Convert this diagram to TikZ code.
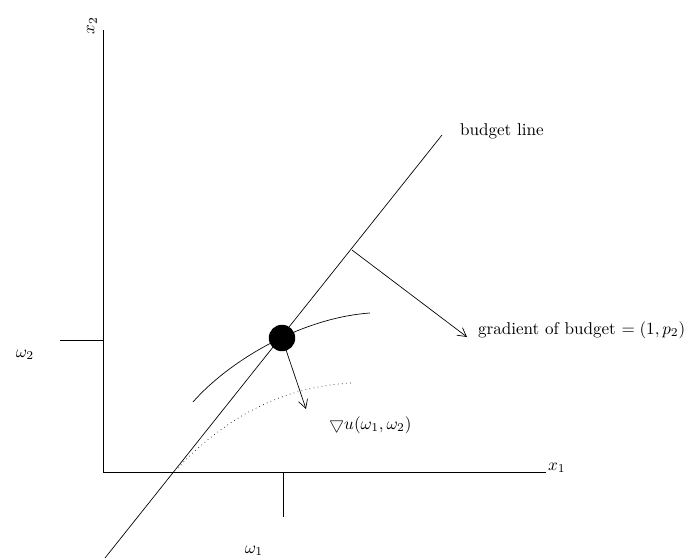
\documentclass[tikz,border=0pt]{standalone}
\usetikzlibrary{calc,arrows.meta}
\begin{document}
\begin{tikzpicture}[x=0.585pt,y=-0.585pt,
  lbl/.style={inner sep=1pt},
  arr/.style={-{Straight Barb[length=5pt,width=5.5pt]},line width=0.4pt},
  thin line/.style={line width=0.4pt}]
\useasboundingbox (0,0) rectangle (686,560);
% axes
\coordinate (O) at (103,472);
\coordinate (ytop) at (103,30);
\coordinate (xend) at (546,472);
\draw[thin line] (ytop) -- (O) -- (xend);
\node[lbl,anchor=west] (x1) at (546,468) {$x_1$};
\node[lbl,rotate=90,anchor=south] (x2) at (99,26) {$x_2$};
% endowment ticks
\coordinate (w2a) at (60,340);
\coordinate (w2b) at (103,340);
\draw[thin line] (w2a) -- (w2b);
\node[lbl] (w2) at (25,355) {$\omega_2$};
\coordinate (w1a) at (283,472);
\coordinate (w1b) at (283,517);
\draw[thin line] (w1a) -- (w1b);
\node[lbl] (w1) at (254,551) {$\omega_1$};
% budget line
\coordinate (bl0) at (105,558);
\coordinate (bl1) at (442,135);
\draw[thin line] (bl0) -- (bl1);
\node[lbl,anchor=west] (bltext) at (458,131) {budget line};
% perpendicular gradient of budget
\coordinate (pb) at (352,250);
\coordinate (pe) at (467,337);
\draw[arr] (pb) -- (pe);
\node[lbl,anchor=west] (gbtext) at (476,330) {gradient of budget $=(1,p_2)$};
% indifference curves
\draw[thin line] (193,402) .. controls (228,362) and (300,318) .. (370,313);
\draw[dotted,thin line] (178,468) .. controls (232,410) and (292,386) .. (352,383);
% endowment point
\node[circle,fill=black,minimum size=15.5pt,inner sep=0pt] (P) at (282,338) {};
% utility gradient
\coordinate (ge) at (306,409);
\draw[arr] (P.center) -- (ge);
\node[lbl,anchor=west] (gutext) at (327,425) {$\bigtriangledown u(\omega_1,\omega_2)$};
\end{tikzpicture}
\end{document}
